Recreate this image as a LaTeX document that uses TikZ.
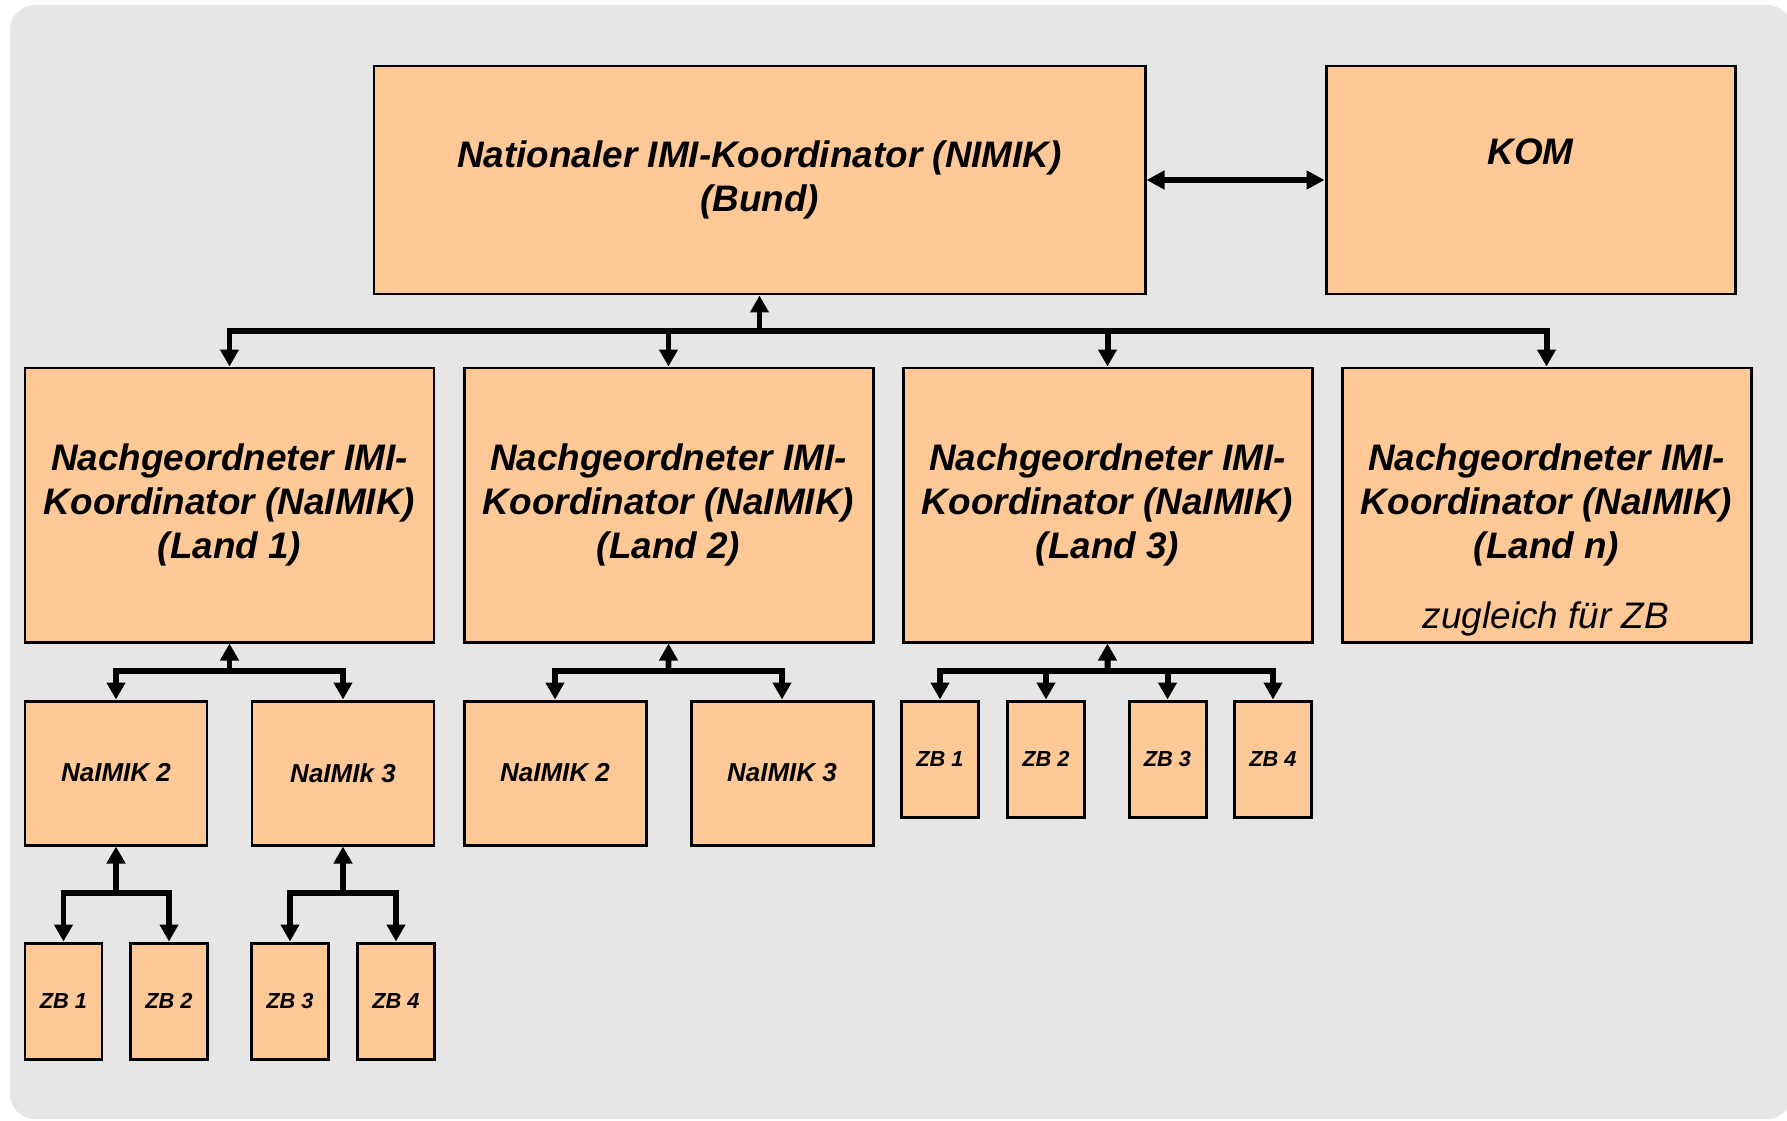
\documentclass[tikz,border=0pt]{standalone}
\usepackage{fontspec}
\setmainfont{Liberation Sans}
\usepackage{tikz}
\usetikzlibrary{arrows.meta,positioning}
\definecolor{peach}{RGB}{255,201,151}
\definecolor{panel}{RGB}{230,230,230}

\begin{document}
\begin{tikzpicture}[node distance={43.9mm},
  main/.style = {draw, rectangle, fill=peach, line width=0.85pt, inner sep=0pt, align=center, font=\bfseries\itshape\fontsize{10.5}{12.6}\selectfont},
  land/.style = {main, minimum width=40.9mm, minimum height=27.4mm},
  sub/.style = {main, minimum width=18.2mm, minimum height=14.4mm, font=\bfseries\itshape\fontsize{7.4}{9}\selectfont},
  zb/.style = {main, minimum width=7.7mm, minimum height=11.6mm, font=\bfseries\itshape\fontsize{6.2}{7.5}\selectfont},
  link/.style = {line width=1.7pt, -{Triangle[width=1.8mm,length=1.7mm]}},
  both/.style = {line width=1.7pt, {Triangle[width=1.8mm,length=1.8mm]}-{Triangle[width=1.8mm,length=1.8mm]}}]

\useasboundingbox (0,0) rectangle (17.87,-11.20);
\fill[panel, rounded corners=2.5mm] (0.10,-0.05) rectangle (17.92,-11.19);

\node[main, minimum width=77.1mm, minimum height=22.8mm] (nimik) at (7.595,-1.80) {Nationaler IMI-Koordinator (NIMIK)\\(Bund)};
\node[main, minimum width=40.9mm, minimum height=22.8mm, text depth=5.6mm] (kom) at (15.305,-1.80) {KOM};

\node[land] (land1) at (2.295,-5.05) {Nachgeordneter IMI-\\Koordinator (NaIMIK)\\(Land 1)};
\node[land] (land2) [right of=land1] {Nachgeordneter IMI-\\Koordinator (NaIMIK)\\(Land 2)};
\node[land] (land3) [right of=land2] {Nachgeordneter IMI-\\Koordinator (NaIMIK)\\(Land 3)};
\node[land] (land4) [right of=land3] {Nachgeordneter IMI-\\Koordinator (NaIMIK)\\(Land n)};
\node[font=\itshape\fontsize{10.5}{12.6}\selectfont] (land4zb) at (15.46,-6.19) {zugleich für ZB};

\node[sub] (l1n2) at (1.16,-7.73) {NaIMIK 2};
\node[sub] (l1n3) at (3.43,-7.73) {NaIMIk 3};
\node[sub] (l2n2) at (5.55,-7.73) {NaIMIK 2};
\node[sub] (l2n3) at (7.82,-7.73) {NaIMIK 3};

\node[zb] (l1zb1) at (0.635,-10.01) {ZB 1};
\node[zb] (l1zb2) at (1.69,-10.01) {ZB 2};
\node[zb] (l1zb3) at (2.90,-10.01) {ZB 3};
\node[zb] (l1zb4) at (3.96,-10.01) {ZB 4};

\node[zb] (l3zb1) at (9.40,-7.59) {ZB 1};
\node[zb] (l3zb2) at (10.46,-7.59) {ZB 2};
\node[zb] (l3zb3) at (11.675,-7.59) {ZB 3};
\node[zb] (l3zb4) at (12.73,-7.59) {ZB 4};

\coordinate (top) at (7.595,-3.31);
\coordinate (j1) at (2.295,-6.71);
\coordinate (j2) at (6.685,-6.71);
\coordinate (j3) at (11.075,-6.71);
\coordinate (j11) at (1.16,-8.93);
\coordinate (j12) at (3.43,-8.93);

\draw[both] (nimik.east) -- (kom.west);

\draw[link] (top) -- (nimik.south);
\draw[link] (top) -| (land1.north); \draw[link] (top) -| (land2.north);
\draw[link] (top) -| (land3.north); \draw[link] (top) -| (land4.north);

\draw[link] (j1) -- (land1.south);
\draw[link] (j1) -| (l1n2.north); \draw[link] (j1) -| (l1n3.north);
\draw[link] (j2) -- (land2.south);
\draw[link] (j2) -| (l2n2.north); \draw[link] (j2) -| (l2n3.north);
\draw[link] (j3) -- (land3.south);
\draw[link] (j3) -| (l3zb1.north); \draw[link] (j3) -| (l3zb2.north);
\draw[link] (j3) -| (l3zb3.north); \draw[link] (j3) -| (l3zb4.north);

\draw[link] (j11) -- (l1n2.south);
\draw[link] (j11) -| (l1zb1.north); \draw[link] (j11) -| (l1zb2.north);
\draw[link] (j12) -- (l1n3.south);
\draw[link] (j12) -| (l1zb3.north); \draw[link] (j12) -| (l1zb4.north);

\end{tikzpicture}
\end{document}
